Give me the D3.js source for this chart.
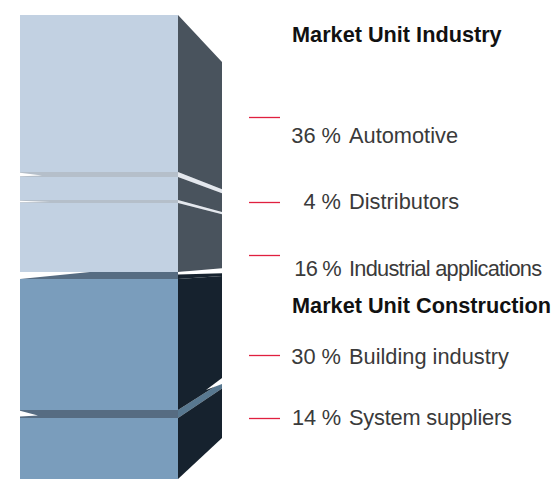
<!DOCTYPE html>
<html>
<head>
<meta charset="utf-8">
<script src="https://cdn.jsdelivr.net/npm/d3@7"></script>
<style>
  html, body { margin: 0; padding: 0; background: #fff; }
  svg { display: block; font-family: "Liberation Sans", Arial, sans-serif; }
</style>
</head>
<body>
<div id="chart"></div>
<script>
// market shares, top to bottom
var categories = ['Automotive', 'Distributors', 'Industrial applications', 'Building industry', 'System suppliers'];
var shares = [36, 4, 16, 30, 14];
var units = ['Market Unit Industry', 'Market Unit Industry', 'Market Unit Industry', 'Market Unit Construction', 'Market Unit Construction'];
var headings = ['Market Unit Industry', 'Market Unit Construction'];
// where the red leader lines sit, in cumulative percent
var leaderAt = [23.4, 40.4, 52.2, 74, 87.6];

// layout
var width = 557, height = 479;
var frontLeft = 20, frontRight = 178, sideRight = 222;
var blockGap = [0, 5, 3, 7, 8];
var labelBase = [143, 209, 276, 364, 425];
var labelSpacing = [0, 0, -0.75, 0, -0.2];
var headingBase = [42, 313];

var cum = [0];
shares.forEach(function(d, i) { cum.push(cum[i] + d); });

// the drawing is not to scale, hence the piecewise range
var y = d3.scaleLinear().domain(cum).range([15, 172, 200, 272, 410, 479]);
// same heights on the far edge of the side face (perspective)
var ySide = d3.scaleLinear().domain([15, 479]).range([62, 438]);

var unitColor = d3.scaleOrdinal().domain(headings).range(['#c2d1e2', '#7a9dbc']);
var unitSide = d3.scaleOrdinal().domain(headings).range(['#48525d', '#17242f']);
var unitBand = d3.scaleOrdinal().domain(headings).range(['#b5bfca', '#566c82']);
var unitSideBand = d3.scaleOrdinal().domain(headings).range(['#e4e8ee', '#587890']);

var svg = d3.select('#chart').append('svg')
  .attr('width', width)
  .attr('height', height);

svg.append('defs').append('filter')
  .attr('id', 'soft')
  .append('feGaussianBlur')
  .attr('stdDeviation', 0.5);

var line = d3.line();

var blocks = categories.map(function(c, i) {
  return {
    name: c, share: shares[i], unit: units[i], gap: blockGap[i],
    top: y(cum[i]) + blockGap[i], bottom: y(cum[i + 1])
  };
});

var column = svg.append('g').attr('filter', 'url(#soft)');

// gaps between blocks go first
var gaps = column.append('g');
blocks.forEach(function(b, i) {
  if (i === 0) return;
  var t = b.top - b.gap, m = b.top;
  var changesUnit = b.unit !== blocks[i - 1].unit;
  var inConstruction = b.unit === headings[1];
  // front band
  gaps.append('rect')
    .attr('x', frontLeft).attr('y', t)
    .attr('width', frontRight - frontLeft).attr('height', b.gap)
    .attr('fill', unitBand(b.unit));
  // white sliver on the left of the band
  var reach = changesUnit ? 90 : (inConstruction ? 38 : (i === 1 ? 42 : 50));
  gaps.append('path')
    .attr('d', line(changesUnit
      ? [[frontLeft, t], [reach, t], [frontLeft, m]]
      : [[frontLeft, t + 0.8], [reach, t + b.gap * 0.7], [frontLeft, m - (inConstruction ? 1.5 : 0.8)]]) + 'Z')
    .attr('fill', '#fff');
  // side band
  gaps.append('path')
    .attr('d', line([[frontRight, t], [sideRight, ySide(t)], [sideRight, ySide(m)], [frontRight, m]]) + 'Z')
    .attr('fill', changesUnit ? '#17242f' : unitSideBand(b.unit));
});

// front faces
column.append('g').selectAll('rect')
  .data(blocks)
  .enter().append('rect')
  .attr('x', frontLeft)
  .attr('y', function(d) { return d.top; })
  .attr('width', frontRight - frontLeft)
  .attr('height', function(d) { return d.bottom - d.top; })
  .attr('fill', function(d) { return unitColor(d.unit); });

// side faces
column.append('g').selectAll('path')
  .data(blocks)
  .enter().append('path')
  .attr('d', function(d) {
    return line([[frontRight, d.top], [sideRight, ySide(d.top)], [sideRight, ySide(d.bottom)], [frontRight, d.bottom]]) + 'Z';
  })
  .attr('fill', function(d) { return unitSide(d.unit); });

// white wedges cut across the side faces
blocks.forEach(function(b, i) {
  if (i === 0) return;
  var t = b.top - b.gap;
  if (b.unit !== blocks[i - 1].unit) {
    column.append('path')
      .attr('d', line([[frontRight, t], [sideRight, ySide(t) - 2], [sideRight, ySide(t) + 3], [frontRight, t + 2.5]]) + 'Z')
      .attr('fill', '#fff');
  } else if (b.unit === headings[1]) {
    column.append('path')
      .attr('d', line([[sideRight - 16, ySide(t) + 8], [sideRight, ySide(t) - 4], [sideRight, ySide(t) + 2]]) + 'Z')
      .attr('fill', '#fff');
  }
});

// red leader lines
svg.append('g').selectAll('line')
  .data(leaderAt)
  .enter().append('line')
  .attr('x1', 249).attr('x2', 280)
  .attr('y1', function(d) { return Math.round(y(d)) + 0.5; })
  .attr('y2', function(d) { return Math.round(y(d)) + 0.5; })
  .attr('stroke', '#e0203f')
  .attr('stroke-width', 1.3);

// labels
var labels = svg.append('g').attr('font-size', 21.8).attr('fill', '#3a3a3a');
blocks.forEach(function(b, i) {
  labels.append('text')
    .attr('x', 341).attr('y', labelBase[i])
    .attr('text-anchor', 'end')
    .attr('letter-spacing', labelSpacing[i])
    .text(b.share + ' %');
  labels.append('text')
    .attr('x', 349).attr('y', labelBase[i])
    .attr('letter-spacing', labelSpacing[i])
    .text(b.name);
});

svg.append('g').selectAll('text')
  .data(headings)
  .enter().append('text')
  .attr('x', 292)
  .attr('y', function(d, i) { return headingBase[i]; })
  .attr('font-size', 21.7)
  .attr('font-weight', 'bold')
  .attr('fill', '#111')
  .text(function(d) { return d; });
</script>
</body>
</html>
